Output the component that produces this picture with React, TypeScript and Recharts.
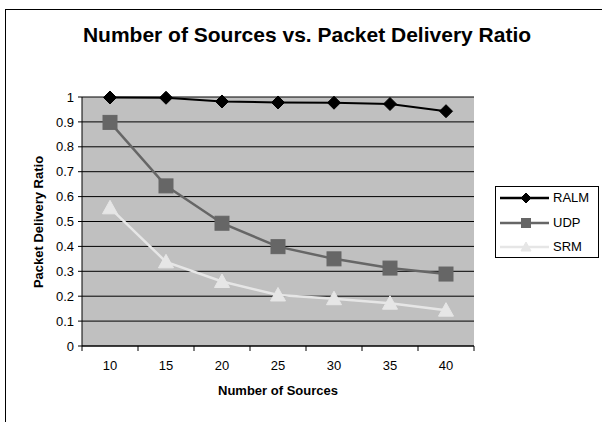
import React from 'react';
import { LineChart, Line, XAxis, YAxis, CartesianGrid, Label } from 'recharts';

const categories = [10, 15, 20, 25, 30, 35, 40];
const ralm = [0.998, 0.997, 0.982, 0.978, 0.977, 0.972, 0.943];
const udp = [0.898, 0.643, 0.493, 0.399, 0.35, 0.313, 0.289];
const srm = [0.555, 0.338, 0.259, 0.205, 0.19, 0.172, 0.144];
const yTicks = [0, 0.1, 0.2, 0.3, 0.4, 0.5, 0.6, 0.7, 0.8, 0.9, 1];

const data = categories.map((c, i) => ({ x: c, RALM: ralm[i], UDP: udp[i], SRM: srm[i] }));

const FONT = '"Liberation Sans", Arial, sans-serif';
const W = 602;
const H = 422;
const HALF_BAND = 28;

const COLORS = { RALM: '#000000', UDP: '#666666', SRM: '#e6e6e6' };

const Diamond = ({ cx, cy, r, fill }: any) => (
  <polygon points={`${cx},${cy - r} ${cx + r},${cy} ${cx},${cy + r} ${cx - r},${cy}`} fill={fill} stroke={fill} />
);
const Square = ({ cx, cy, r, fill }: any) => (
  <rect x={cx - r} y={cy - r} width={2 * r} height={2 * r} fill={fill} stroke={fill} />
);
const Triangle = ({ cx, cy, r, fill }: any) => (
  <polygon points={`${cx},${cy - r} ${cx + r},${cy + r * 0.8} ${cx - r},${cy + r * 0.8}`} fill={fill} stroke={fill} />
);

const ralmDot = (p: any) => <Diamond key={`r-${p.index}`} cx={p.cx} cy={p.cy} r={6.5} fill={COLORS.RALM} />;
const udpDot = (p: any) => <Square key={`u-${p.index}`} cx={p.cx} cy={p.cy} r={7} fill={COLORS.UDP} />;
const srmDot = (p: any) => <Triangle key={`s-${p.index}`} cx={p.cx} cy={p.cy} r={7.5} fill={COLORS.SRM} />;

const XTick = (props: any) => {
  const { x, y, payload, index } = props;
  return (
    <g>
      <line x1={x - HALF_BAND} x2={x - HALF_BAND} y1={y} y2={y + 5} stroke="#000" />
      {index === categories.length - 1 && (
        <line x1={x + HALF_BAND} x2={x + HALF_BAND} y1={y} y2={y + 5} stroke="#000" />
      )}
      <text x={x} y={y + 24} textAnchor="middle" fontSize={13} fill="#000" fontFamily={FONT}>
        {payload.value}
      </text>
    </g>
  );
};

const legendItems = [
  { name: 'RALM', color: COLORS.RALM, marker: 'diamond' },
  { name: 'UDP', color: COLORS.UDP, marker: 'square' },
  { name: 'SRM', color: COLORS.SRM, marker: 'triangle' },
];

const LegendBox = () => (
  <div
    style={{
      position: 'absolute',
      left: 495,
      top: 186,
      width: 104,
      height: 72,
      border: '1px solid #000',
      boxSizing: 'border-box',
      background: '#fff',
      fontFamily: FONT,
    }}
  >
    {legendItems.map((it, i) => (
      <div
        key={it.name}
        style={{ position: 'absolute', left: 4, top: 11 + i * 24.5 - 8, height: 16, display: 'flex', alignItems: 'center' }}
      >
        <svg width={50} height={16} style={{ display: 'block' }}>
          <line x1={0} x2={49} y1={8} y2={8} stroke={it.color} strokeWidth={2.5} />
          {it.marker === 'diamond' && <Diamond cx={26} cy={8} r={5} fill={it.color} />}
          {it.marker === 'square' && <Square cx={26} cy={8} r={4.5} fill={it.color} />}
          {it.marker === 'triangle' && <Triangle cx={26} cy={8} r={5} fill={it.color} />}
        </svg>
        <span style={{ fontSize: 13, marginLeft: 3, color: '#000', lineHeight: '16px' }}>{it.name}</span>
      </div>
    ))}
  </div>
);

export default function App() {
  return (
    <div style={{ position: 'absolute', left: 0, top: 0, width: W, height: H, overflow: 'hidden', background: '#fff' }}>
      <div
        style={{
          position: 'absolute',
          left: 5,
          top: 9,
          width: 660,
          height: 500,
          border: '1px solid #000',
        }}
      />
      <div
        style={{
          position: 'absolute',
          left: 0,
          top: 24,
          width: 614,
          textAlign: 'center',
          fontFamily: FONT,
          fontWeight: 'bold',
          fontSize: 21,
          lineHeight: '21px',
          color: '#000',
          whiteSpace: 'nowrap',
        }}
      >
        Number of Sources vs. Packet Delivery Ratio
      </div>
      <div style={{ position: 'absolute', left: 0, top: 0 }}>
        <LineChart
          width={W}
          height={H}
          data={data}
          margin={{ top: 97, right: 128, bottom: 0, left: 0 }}
          style={{ fontFamily: FONT }}
        >
          <CartesianGrid
            horizontal={true}
            vertical={false}
            stroke="#000"
            fill="#c0c0c0"
            fillOpacity={1}
          />
          <XAxis
            dataKey="x"
            type="category"
            height={76}
            padding={{ left: HALF_BAND, right: HALF_BAND }}
            axisLine={{ stroke: '#000' }}
            tickLine={false}
            tickSize={0}
            tickMargin={0}
            tick={<XTick />}
            interval={0}
          >
            <Label
              content={() => (
                <text x={278} y={395} textAnchor="middle" fontSize={13} fontWeight="bold" fontFamily={FONT} fill="#000">
                  Number of Sources
                </text>
              )}
            />
          </XAxis>
          <XAxis
            xAxisId="top"
            dataKey="x"
            orientation="top"
            height={0}
            tick={false}
            tickLine={false}
            axisLine={{ stroke: '#808080', strokeWidth: 2 }}
          />
          <YAxis
            type="number"
            domain={[0, 1]}
            ticks={yTicks}
            width={82}
            interval={0}
            tickSize={4}
            tickMargin={4}
            axisLine={{ stroke: '#000' }}
            tickLine={{ stroke: '#000' }}
            tick={{ fontSize: 13, fill: '#000', fontFamily: FONT }}
          >
            <Label
              content={() => (
                <text
                  x={43}
                  y={222}
                  textAnchor="middle"
                  fontSize={13}
                  fontWeight="bold"
                  fontFamily={FONT}
                  fill="#000"
                  transform="rotate(-90, 43, 222)"
                >
                  Packet Delivery Ratio
                </text>
              )}
            />
          </YAxis>
          <YAxis
            yAxisId="right"
            orientation="right"
            width={0}
            tick={false}
            tickLine={false}
            axisLine={{ stroke: '#808080', strokeWidth: 2 }}
          />
          <Line
            dataKey="UDP"
            stroke={COLORS.UDP}
            strokeWidth={2.5}
            dot={udpDot}
            isAnimationActive={false}
            type="linear"
          />
          <Line
            dataKey="SRM"
            stroke={COLORS.SRM}
            strokeWidth={2.5}
            dot={srmDot}
            isAnimationActive={false}
            type="linear"
          />
          <Line
            dataKey="RALM"
            stroke={COLORS.RALM}
            strokeWidth={2}
            dot={ralmDot}
            isAnimationActive={false}
            type="linear"
          />
        </LineChart>
      </div>
      <LegendBox />
    </div>
  );
}
